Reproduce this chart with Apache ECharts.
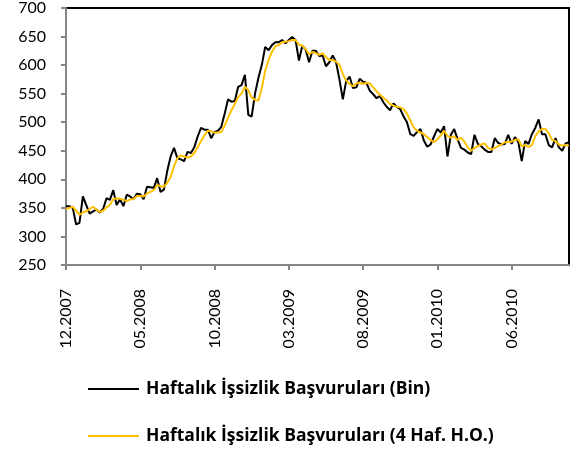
<!DOCTYPE html>
<html>
<head>
  <meta charset="utf-8" />
  <title>Haftalık İşsizlik Başvuruları</title>
  <script src="https://cdn.jsdelivr.net/npm/echarts@6.0.0/dist/echarts.min.js"></script>
</head>
<style>
  body { margin: 0; padding: 0; overflow: hidden; background: #fff; }
</style>
<body>
  <div id="main" style="width: 576px; height: 453px;"></div>
  <script type="text/javascript">
    // haftalık başvurular (bin), 12.2007'den itibaren
    const weekly = [
      353, 353, 350, 321, 324, 370, 355, 340, 344, 347,
      342, 348, 367, 364, 381, 355, 365, 353, 373, 370,
      365, 375, 374, 365, 387, 386, 385, 402, 378, 382,
      415, 440, 455, 437, 435, 432, 448, 446, 456, 475,
      490, 487, 487, 472, 483, 485, 492, 515, 540, 536,
      537, 562, 565, 583, 513, 510, 550, 578, 600, 632,
      626, 635, 640, 640, 644, 638, 644, 649, 644, 608,
      634, 627, 605, 625, 625, 616, 617, 598, 605, 617,
      605, 575, 540, 572, 580, 560, 561, 576, 571, 569,
      555, 549, 542, 546, 535, 527, 521, 533, 527, 523,
      510, 500, 479, 476, 483, 488, 468, 457, 461, 475,
      488, 482, 493, 440, 478, 488, 470, 455, 452, 447,
      444, 478, 462, 458, 452, 448, 448, 472, 464, 461,
      462, 478, 462, 474, 465, 432, 467, 462, 479, 490,
      505, 479, 479, 460, 456, 472, 456, 450, 463, 465
    ];
    // 4 haftalık hareketli ortalama
    const avg4 = [
      348, 350, 352, 345, 338, 342, 344, 348, 352, 347,
      343, 345, 351, 355, 365, 367, 366, 364, 362, 365,
      365, 371, 371, 370, 375, 378, 381, 390, 388, 387,
      394, 404, 423, 437, 442, 440, 438, 440, 446, 456,
      467, 477, 485, 484, 482, 482, 483, 494, 508, 521,
      532, 544, 550, 562, 556, 543, 539, 538, 560, 590,
      609, 623, 633, 635, 640, 641, 642, 644, 644, 636,
      634, 628, 619, 623, 621, 618, 621, 614, 609, 609,
      606, 601, 584, 573, 567, 563, 568, 569, 567, 569,
      568, 561, 554, 548, 543, 538, 532, 529, 527, 526,
      523, 515, 503, 491, 485, 482, 479, 474, 469, 465,
      470, 477, 485, 476, 473, 475, 469, 473, 466, 456,
      450, 455, 458, 461, 463, 455, 452, 455, 458, 461,
      465, 466, 466, 469, 470, 458, 460, 457, 460, 475,
      484, 488, 488, 481, 469, 467, 461, 459, 460, 459
    ];
    const tickLabels = ['12.2007', '05.2008', '10.2008', '03.2009', '08.2009', '01.2010', '06.2010'];
    const labelStep = 22;
    const seriesNames = ['Haftalık İşsizlik Başvuruları (Bin)', 'Haftalık İşsizlik Başvuruları (4 Haf. H.O.)'];

    const categories = weekly.map((v, i) => (i % labelStep === 0 ? tickLabels[i / labelStep] : 'h' + i));

    const font = 'Lato, "Open Sans", sans-serif';
    const legendText = { fontFamily: '"Open Sans", Lato, sans-serif', fontSize: 17.5, fontWeight: 'bold', color: '#000', padding: [0, 0, 0, 2] };
    const chart = echarts.init(document.getElementById('main'));

    chart.setOption({
      animation: false,
      grid: {
        left: 66, right: 7, top: 7, bottom: 188,
        show: true, borderColor: '#000', borderWidth: 2
      },
      legend: [
        {
          left: 88, top: 380, padding: 0, orient: 'vertical',
          data: [seriesNames[0]],
          icon: 'rect', itemWidth: 51, itemHeight: 2,
          textStyle: legendText
        },
        {
          left: 88, top: 427, padding: 0, orient: 'vertical',
          data: [seriesNames[1]],
          icon: 'rect', itemWidth: 51, itemHeight: 2,
          textStyle: legendText
        }
      ],
      xAxis: {
        type: 'category',
        data: categories,
        boundaryGap: false,
        axisLine: { lineStyle: { color: '#868686', width: 2 } },
        axisTick: { interval: labelStep - 1, length: 5, lineStyle: { color: '#868686', width: 2 } },
        axisLabel: {
          interval: labelStep - 1, rotate: 90, margin: 24,
          fontFamily: font, fontSize: 16, color: '#000'
        },
        splitLine: { show: false }
      },
      yAxis: {
        type: 'value',
        min: 250, max: 700, interval: 50,
        axisLine: { show: true, lineStyle: { color: '#868686', width: 2 } },
        axisTick: { show: true, length: 5, lineStyle: { color: '#868686', width: 2 } },
        axisLabel: { margin: 20, fontFamily: font, fontSize: 16, color: '#000' },
        splitLine: { show: false }
      },
      series: [
        {
          name: seriesNames[0], type: 'line', data: weekly,
          symbol: 'none', lineStyle: { color: '#000', width: 2 }, itemStyle: { color: '#000' }
        },
        {
          name: seriesNames[1], type: 'line', data: avg4,
          symbol: 'none', lineStyle: { color: '#FFC000', width: 2 }, itemStyle: { color: '#FFC000' }
        }
      ]
    });
  </script>
</body>
</html>
